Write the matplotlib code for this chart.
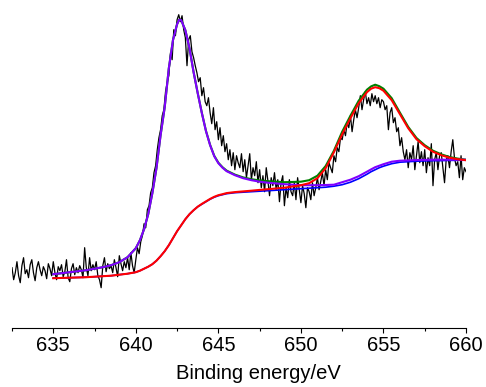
import numpy as np
import matplotlib.pyplot as plt

plt.rcParams['font.family'] = ['Liberation Sans', 'DejaVu Sans']

# measured spectrum, 0.1 eV steps from 632.5 to 660 eV
counts = [
    60, 48, 55, 66, 52, 45, 62, 70, 54, 58,
    50, 63, 68, 55, 47, 60, 66, 58, 52, 61,
    57, 49, 64, 59, 52, 66, 55, 48, 61, 57,
    63, 51, 56, 68, 50, 46, 59, 64, 53, 60,
    55, 62, 58, 50, 80, 60, 52, 70, 57, 63,
    58, 66, 52, 48, 40, 62, 70, 56, 64, 59,
    62, 55, 68, 60, 51, 72, 64, 57, 66, 60,
    70, 58, 75, 62, 55, 68, 80, 74, 86, 92,
    104, 100, 118, 122, 135, 140, 155, 162, 178, 190,
    198, 212, 218, 236, 245, 252, 275, 268, 298, 292,
    308, 313, 306, 312, 298, 290, 262, 288, 292, 276,
    270, 262, 255, 246, 250, 232, 240, 226, 222, 230,
    215, 204, 220, 198, 206, 188, 200, 182, 192, 176,
    184, 168, 178, 162, 175, 158, 172, 165, 160, 174,
    156, 168, 150, 162, 174, 148, 160, 152, 166, 145,
    158, 140, 152, 136, 160, 147, 132, 150, 142, 155,
    138, 148, 126, 145, 152, 122, 140, 130, 148, 136,
    132, 145, 128, 150, 138, 125, 142, 134, 120, 140,
    136, 128, 145, 132, 140, 150, 138, 146, 155, 142,
    158, 148, 165, 160, 155, 172, 166, 180, 176, 190,
    188, 198, 192, 205, 200, 212, 196, 208, 218, 210,
    220, 232, 218, 228, 236, 224, 230, 222, 234, 226,
    232, 224, 230, 220, 228, 226, 218, 222, 198, 215,
    220, 205, 210, 196, 200, 182, 190, 176, 168, 178,
    160, 175, 168, 182, 158, 172, 186, 165, 176, 162,
    178, 155, 170, 162, 184, 142, 168, 175, 158, 172,
    175, 160, 145, 168, 172, 160, 176, 188, 170, 162,
    166, 150, 172, 148, 160, 156,
]
energy = np.linspace(632.5, 660, len(counts))

# fitted curves
fit_E = [635, 636, 637, 638, 638.5, 639, 639.5, 640, 640.25, 640.5,
         640.75, 641, 641.25, 641.5, 641.75, 642, 642.25, 642.5, 642.625, 642.75,
         643, 643.25, 643.5, 643.75, 644, 644.25, 644.5, 644.75, 645, 645.25,
         645.5, 646, 646.5, 647, 647.5, 648, 649, 650, 650.5, 651,
         651.5, 652, 652.5, 653, 653.5, 654, 654.25, 654.5, 654.75, 655,
         655.5, 656, 656.5, 657, 657.5, 658, 658.5, 659, 659.5, 660]

background = [49.5, 50, 50.5, 51.5, 52, 53, 54, 55.5, 57, 59,
              61, 63.5, 67, 71.5, 76.5, 82.5, 89.5, 96.5, 99.5, 102.5,
              108.5, 113.5, 117.5, 121, 123.5, 126, 128.5, 130.5, 132, 133,
              134, 135, 135.5, 136, 136.5, 137, 138, 139, 139.5, 140,
              140.5, 141.5, 143, 145.5, 149, 153.5, 156, 158, 160, 161.5,
              164, 165.5, 166, 166.5, 166.8, 167, 167.1, 167.3, 167.4, 167.5]

peak_2p32 = [53.5, 55.5, 57.5, 60.5, 62.5, 65.5, 70.5, 79.5, 87.5, 98.5,
             113.5, 134.5, 159.5, 192.5, 220.5, 259.5, 287.5, 303.5, 308, 307.5,
             297.5, 279.5, 255.5, 234.5, 214.5, 196.5, 182.5, 171.5, 164.5, 160,
             156.5, 152.5, 149.5, 147.5, 146, 145, 143.5, 142.5, 142.5, 142.5,
             142.7, 143, 145.5, 148, 151.5, 156, 158.3, 160.5, 162, 163.5,
             166, 167, 167.3, 167.7, 167.8, 168, 168, 168, 168, 168]

peak_2p12 = [49.5, 50, 50.5, 51.5, 52, 53, 54, 55.5, 57, 59,
             61, 63.5, 67, 71.5, 76.5, 82.5, 89.5, 96.5, 99.5, 102.5,
             108.5, 113.5, 117.5, 121, 123.8, 126.3, 128.8, 130.9, 132.5, 133.5,
             134.6, 135.6, 136.3, 137, 137.8, 138.5, 140, 142.5, 144.5, 149.5,
             159.5, 175.5, 193.5, 209.5, 224.5, 235.5, 239, 240.5, 239.5, 237,
             227.5, 213.5, 199.5, 188.5, 181.5, 176, 172.5, 170, 168.5, 167.5]

bg = np.array(background)
envelope = np.array(peak_2p32) + np.array(peak_2p12) - bg

fig = plt.figure(figsize=(4.86, 3.87), dpi=100)
ax = fig.add_axes([12/486, (387-327.7)/387, 454/486, 317.7/387])

ax.plot(energy, counts, color='black', lw=0.9)
ax.plot(fit_E, envelope, color='#008000', lw=1.5)
ax.plot(fit_E, bg, color='#0000FF', lw=1.2)
ax.plot(fit_E, peak_2p32, color='#8000FF', lw=1.5)
ax.plot(fit_E, peak_2p12, color='#FF0000', lw=1.5)

ax.set_xlim(632.5, 660)
ax.set_ylim(0, 317.7)
ax.set_xticks(np.arange(635, 661, 5))
ax.set_xticks(np.arange(632.5, 660, 5), minor=True)
ax.set_yticks([])
for s in ['left', 'top', 'right']:
    ax.spines[s].set_visible(False)
ax.spines['bottom'].set_linewidth(0.8)
ax.tick_params(axis='x', which='major', direction='out', length=3.6, width=0.8,
               labelsize=14.5, pad=2.5)
ax.tick_params(axis='x', which='minor', direction='out', length=1.8, width=0.8)
ax.set_xlabel("Binding energy/eV", fontsize=14.5)
ax.xaxis.set_label_coords(0.542, -0.115)

plt.savefig("out.png", dpi=100)
